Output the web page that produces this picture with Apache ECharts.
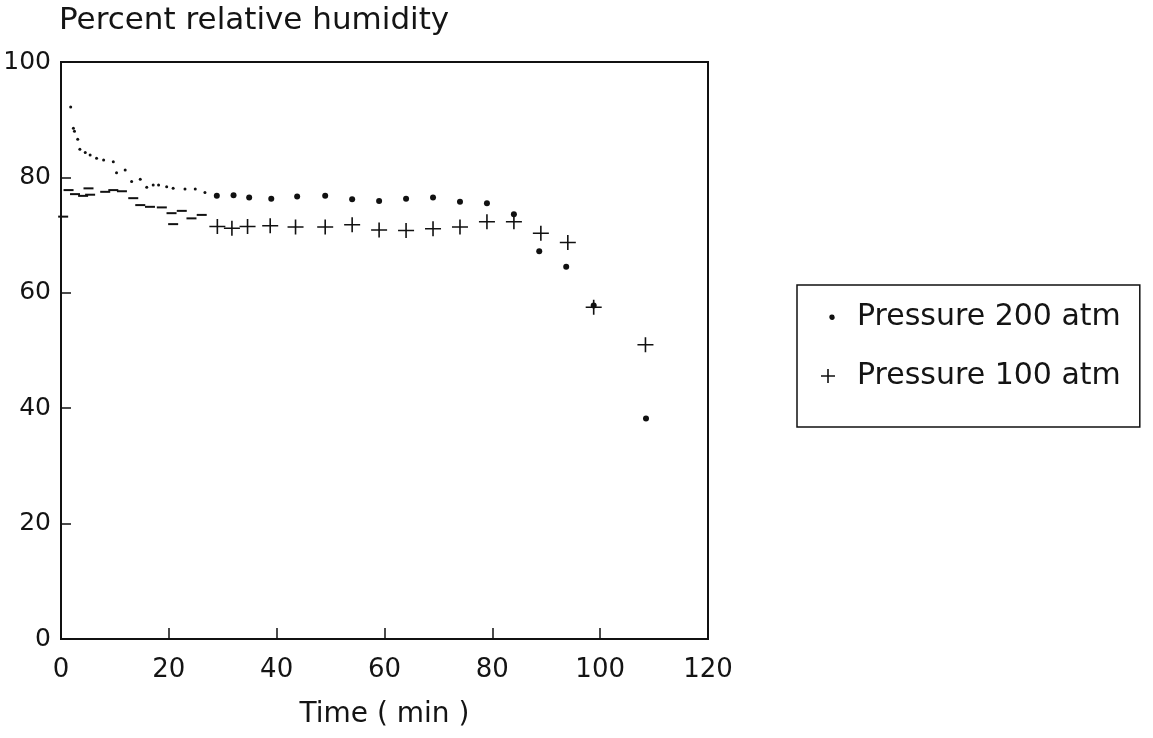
<!DOCTYPE html>
<html>
<head>
<meta charset="utf-8">
<script src="https://cdn.jsdelivr.net/npm/echarts@6/dist/echarts.min.js"></script>
<style>
html,body{margin:0;padding:0;background:#fff;}
#chart{width:1153px;height:738px;}
</style>
</head>
<body>
<div id="chart"></div>
<script>
// Pressure 200 atm (dots)
var time200 = [1.8, 2.3, 2.5, 3.1, 3.5, 4.5, 5.4, 6.6, 7.9, 9.7, 10.3, 11.9, 13.1, 14.7, 15.9, 17.1, 18.1, 19.6, 20.8, 23.0, 24.9, 26.7, 28.9, 32.0, 34.9, 39.0, 43.8, 49.0, 54.0, 59.0, 64.0, 69.0, 74.0, 79.0, 84.0, 88.7, 93.7, 98.8, 108.5];
var rh200 = [92.2, 88.5, 88.0, 86.6, 84.9, 84.3, 83.9, 83.3, 83.0, 82.7, 80.8, 81.3, 79.3, 79.7, 78.3, 78.7, 78.7, 78.4, 78.1, 78.0, 78.0, 77.4, 76.8, 76.9, 76.5, 76.3, 76.7, 76.8, 76.2, 75.9, 76.3, 76.5, 75.8, 75.5, 73.6, 67.2, 64.5, 57.8, 38.2];
// Pressure 100 atm (plus)
var time100 = [0.4, 1.4, 2.6, 4.1, 5.1, 5.4, 8.2, 9.7, 11.3, 13.4, 14.7, 16.5, 18.7, 20.5, 20.8, 22.4, 24.2, 26.1, 29.0, 31.7, 34.6, 38.8, 43.5, 49.0, 54.0, 59.0, 64.0, 69.0, 74.0, 79.0, 84.0, 89.0, 94.0, 98.8, 108.4];
var rh100 = [73.2, 77.8, 77.1, 76.8, 78.1, 77.0, 77.5, 77.8, 77.6, 76.4, 75.2, 74.9, 74.8, 73.8, 71.9, 74.2, 72.9, 73.5, 71.5, 71.2, 71.5, 71.6, 71.4, 71.4, 71.8, 70.9, 70.8, 71.1, 71.4, 72.3, 72.3, 70.3, 68.7, 57.5, 51.0];
var xTicks = [0, 20, 40, 60, 80, 100, 120];
var yTicks = [0, 20, 40, 60, 80, 100];

function pairs(xs, ys){ return xs.map(function(x,i){ return [x, ys[i]]; }); }

var PLUS = 'path://M0.45,0 H0.55 V0.45 H1 V0.55 H0.55 V1 H0.45 V0.55 H0 V0.45 H0.45 Z';
var DASH = 'rect';
// legend icons: a 44x14 box (tiny corner specks keep the box) with the visible mark inside
var LEG_DOT = 'path://M0,0 L0.01,0 L0,0.01 Z M44,14 L43.99,14 L44,13.99 Z M26.7,7 A2.7,2.7 0 1 1 26.69,6.9 Z';
var LEG_PLUS = 'path://M0,0 L0.01,0 L0,0.01 Z M44,14 L43.99,14 L44,13.99 Z M13,6.2 H27 V7.8 H13 Z M19.2,0 H20.8 V14 H19.2 Z';
var font = 'DejaVu Sans';
var ink = '#141414';

var chart = echarts.init(document.getElementById('chart'));
chart.setOption({
  animation: false,
  backgroundColor: '#fff',
  title: {
    text: 'Percent relative humidity',
    left: 59, top: 5, padding: 0,
    textStyle: {fontFamily: font, fontSize: 31, fontWeight: 'normal', color: ink}
  },
  legend: {
    orient: 'vertical',
    left: 797, top: 285,
    padding: [17, 19, 36, 11],
    itemGap: 29,
    itemWidth: 44, itemHeight: 14,
    borderColor: '#111', borderWidth: 1.5,
    textStyle: {fontFamily: font, fontSize: 30, color: ink, lineHeight: 30},
    data: [
      {name: 'Pressure 200 atm', icon: LEG_DOT},
      {name: 'Pressure 100 atm', icon: LEG_PLUS}
    ]
  },
  grid: {left: 61, right: 445, top: 62, bottom: 99, show: true, borderColor: '#111', borderWidth: 2, backgroundColor: 'transparent'},
  xAxis: {
    type: 'value', min: xTicks[0], max: xTicks[xTicks.length-1], interval: xTicks[1]-xTicks[0],
    name: 'Time ( min )', nameLocation: 'middle', nameGap: 62,
    nameTextStyle: {fontFamily: font, fontSize: 28, color: ink},
    axisLine: {show: true, lineStyle: {color: '#111', width: 2}},
    axisTick: {show: true, inside: true, length: 11, lineStyle: {color: '#111', width: 1.5}},
    axisLabel: {fontFamily: font, fontSize: 26, color: ink, margin: 18},
    splitLine: {show: false}
  },
  yAxis: {
    type: 'value', min: yTicks[0], max: yTicks[yTicks.length-1], interval: yTicks[1]-yTicks[0],
    axisLine: {show: true, lineStyle: {color: '#111', width: 2}},
    axisTick: {show: true, inside: true, length: 10, lineStyle: {color: '#111', width: 1.5}},
    axisLabel: {fontFamily: font, fontSize: 25, color: ink, margin: 10},
    splitLine: {show: false}
  },
  series: [
    {
      name: 'Pressure 200 atm', type: 'scatter',
      data: pairs(time200, rh200),
      symbol: 'circle',
      symbolSize: function(v){ return v[0] < 28 ? 3 : 6; },
      itemStyle: {color: '#111', opacity: 1},
      z: 3
    },
    {
      name: 'Pressure 100 atm', type: 'scatter',
      data: pairs(time100, rh100),
      symbol: function(v){ return v[0] < 28 ? DASH : PLUS; },
      symbolSize: function(v){ return v[0] < 28 ? [10, 2] : [16, 15]; },
      itemStyle: {color: '#111', opacity: 1},
      z: 2
    }
  ]
});
</script>
</body>
</html>
